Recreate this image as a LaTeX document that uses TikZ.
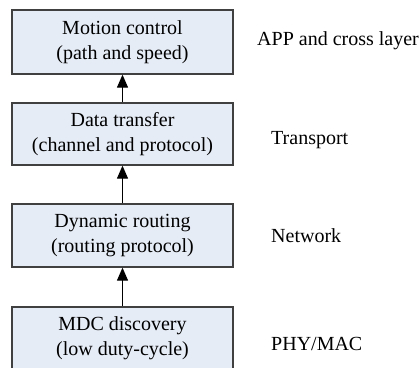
\documentclass[tikz,border=0pt]{standalone}
\usepackage{fontspec}
\setmainfont{Liberation Serif}
\usetikzlibrary{arrows.meta}
\definecolor{boxfill}{HTML}{E6ECF6}
\definecolor{boxline}{HTML}{404040}
\begin{document}
\begin{tikzpicture}[x=1pt,y=-1pt,
  layerbox/.style={draw=boxline, line width=1.3pt, fill=boxfill, minimum width=221pt, align=center, font=\rmfamily\fontsize{20}{25}\selectfont, inner sep=0pt},
  lbl/.style={anchor=base west, font=\rmfamily\fontsize{20}{25}\selectfont, inner sep=0pt},
  up/.style={-{Triangle[length=13pt,width=11pt]}, line width=1.2pt}]
\useasboundingbox (0,0) rectangle (419,367);
\clip (0,0) rectangle (419,367);
\node[layerbox, minimum height=64pt] (b1) at (122.5,42) {Motion control\\(path and speed)};
\node[layerbox, minimum height=62pt] (b2) at (122.5,134) {Data transfer\\(channel and protocol)};
\node[layerbox, minimum height=63pt] (b3) at (122.5,235.5) {Dynamic routing\\(routing protocol)};
\node[layerbox, minimum height=63pt] (b4) at (122.5,338.5) {MDC discovery\\(low duty-cycle)};
\draw[up] (b2.north) -- (b1.south);
\draw[up] (b3.north) -- (b2.south);
\draw[up] (b4.north) -- (b3.south);
\node[lbl] (l1) at (257,45) {APP and cross layer};
\node[lbl] (l2) at (271,144) {Transport};
\node[lbl] (l3) at (271,242) {Network};
\node[lbl] (l4) at (271,350) {PHY/MAC};
\end{tikzpicture}
\end{document}
